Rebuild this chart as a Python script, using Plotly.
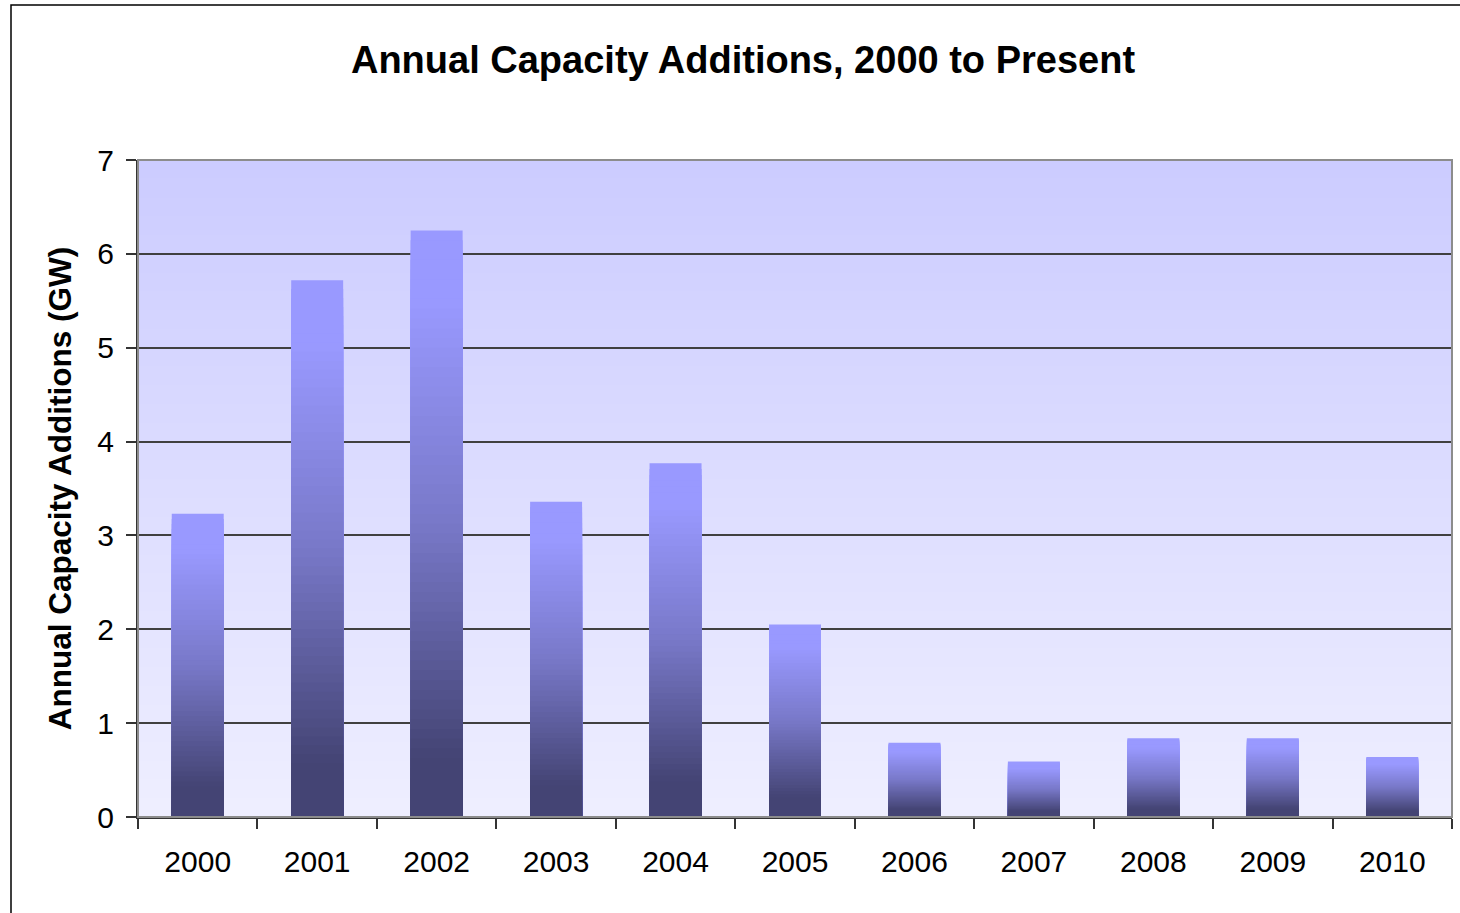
import plotly.graph_objects as go

years = ["2000", "2001", "2002", "2003", "2004", "2005", "2006", "2007", "2008", "2009", "2010"]
capacity_gw = [3.23, 5.72, 6.25, 3.36, 3.77, 2.05, 0.79, 0.59, 0.84, 0.84, 0.64]
y_ticks = [0, 1, 2, 3, 4, 5, 6, 7]

TITLE = "Annual Capacity Additions, 2000 to Present"
Y_TITLE = "Annual Capacity Additions (GW)"

W, H = 1460, 913
ML, MR, MT, MB = 138, 8, 160, 96
PW, PH = W - ML - MR, H - MT - MB


def lerp(c1, c2, t):
    return tuple(round(a + (b - a) * t) for a, b in zip(c1, c2))


def rgb(c):
    return "rgb(%d,%d,%d)" % c


DARK = (68, 68, 116)
MID = (120, 120, 200)
LIGHT = (153, 153, 255)


def bar_color(f):
    # f: fraction of the bar height from bottom (0) to top (1)
    if f <= 0.1:
        return rgb(DARK)
    if f >= 0.88:
        return rgb(LIGHT)
    if f < 0.5:
        return rgb(lerp(DARK, MID, (f - 0.1) / 0.4))
    return rgb(lerp(MID, LIGHT, (f - 0.5) / 0.38))


fig = go.Figure()

N = 60
for k in range(N):
    frac_top = (N - k) / N
    fig.add_trace(go.Bar(
        x=years,
        y=[v * frac_top for v in capacity_gw],
        marker=dict(color=bar_color(frac_top - 0.5 / N), line=dict(width=0)),
        showlegend=False,
        hoverinfo="skip" if k else "y",
    ))

shapes = []
# background gradient of plot area (overlapping rects, drawn top colour first)
BG_TOP = (204, 204, 255)
BG_BOT = (238, 238, 255)
NS = 70
for i in range(NS):
    y1 = 7 * (NS - i) / NS
    t = i / (NS - 1)
    shapes.append(dict(type="rect", xref="x domain", yref="y", x0=0, x1=1, y0=0, y1=y1,
                       fillcolor=rgb(lerp(BG_TOP, BG_BOT, t)), line=dict(width=0), layer="below"))
# plot border (gray right/top)
shapes.append(dict(type="rect", xref="paper", yref="paper", x0=0, x1=1, y0=0, y1=1,
                   line=dict(color="#8c8c8c", width=2), fillcolor="rgba(0,0,0,0)", layer="above"))
# outer chart frame
shapes.append(dict(type="rect", xref="paper", yref="paper",
                   x0=(11 - ML) / PW, x1=(1475 - ML) / PW,
                   y0=(MT + PH - 925) / PH, y1=(MT + PH - 5) / PH,
                   line=dict(color="black", width=1.5), fillcolor="rgba(0,0,0,0)", layer="above"))

fig.update_layout(
    width=W, height=H,
    margin=dict(l=ML, r=MR, t=MT, b=MB, pad=0),
    paper_bgcolor="white",
    plot_bgcolor="rgba(0,0,0,0)",
    barmode="overlay",
    bargap=0.565,
    font=dict(family="Liberation Sans, Arial, sans-serif", color="black"),
    title=dict(text="<b>%s</b>" % TITLE, font=dict(size=38, color="black"),
               x=743 / W, xref="container", xanchor="center",
               y=1 - 60 / H, yref="container", yanchor="middle"),
    shapes=shapes,
    xaxis=dict(
        type="category", tickson="boundaries", ticks="outside", ticklen=10, tickwidth=1.5,
        tickcolor="#333333", showline=True, linecolor="#333333", linewidth=2,
        showgrid=False, tickfont=dict(size=30), ticklabelstandoff=17,
    ),
    yaxis=dict(
        range=[0, 7], tickvals=y_ticks, ticks="outside", ticklen=10, tickwidth=1.5,
        tickcolor="#333333", showline=True, linecolor="#333333", linewidth=2,
        showgrid=True, gridcolor="#404040", gridwidth=1.5, zeroline=False,
        tickfont=dict(size=30), ticklabelstandoff=6,
        title=dict(text="<b>%s</b>" % Y_TITLE, font=dict(size=31.5), standoff=16),
    ),
)

fig.write_html("out.html")
